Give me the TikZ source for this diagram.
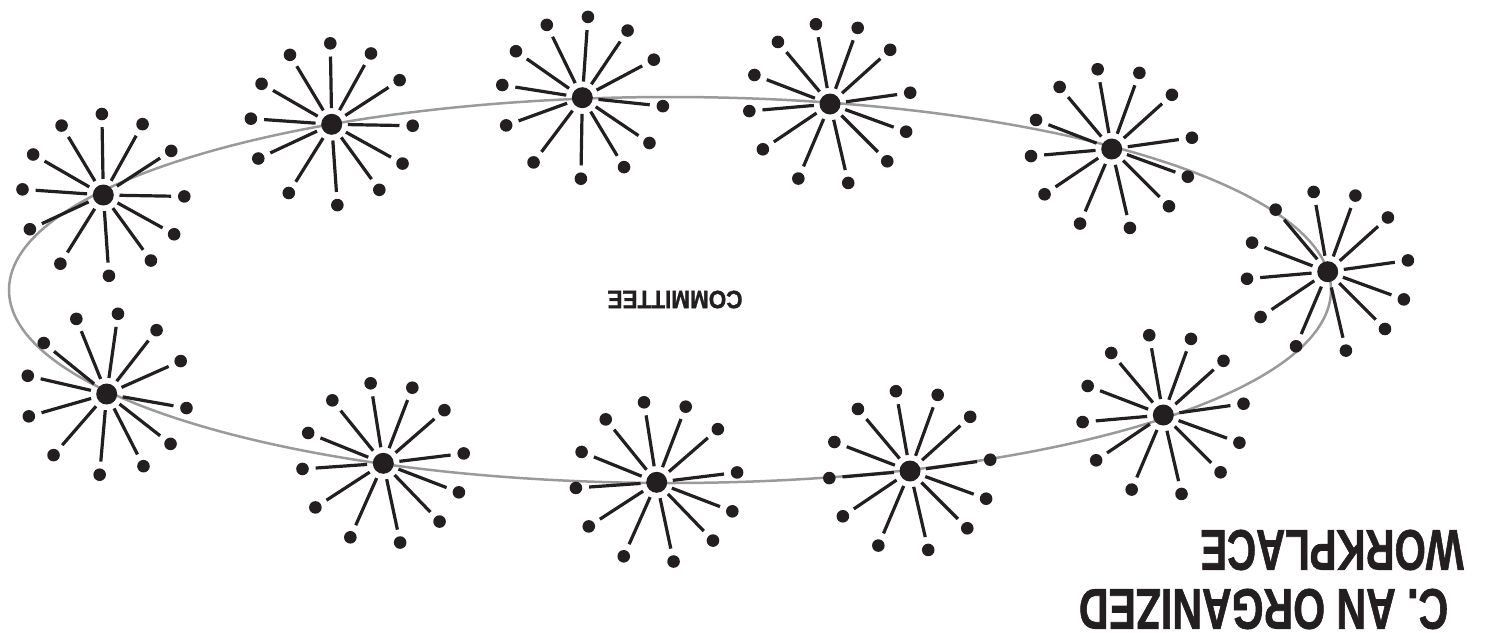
\documentclass[tikz,border=0pt]{standalone}
\usepackage{fontspec}
\setmainfont{Liberation Sans}
\newfontfamily\heavyfont[FakeBold=1.4]{Liberation Sans Bold}
\definecolor{ink}{HTML}{231F20}
\definecolor{ringgray}{HTML}{9A9A9A}
\tikzset{
  hubdot/.style={circle, fill=ink, inner sep=0pt, minimum size=21pt},
  leafdot/.style={circle, fill=ink, inner sep=0pt, minimum size=12.6pt},
  spoke/.style={line width=3.2pt, draw=ink, shorten <=5.5pt, shorten >=6.7pt},
  ring/.style={draw=ringgray, line width=2.5pt},
  bigtitle/.style={font=\heavyfont\fontsize{57}{60}\selectfont, text=ink, rotate=180, inner sep=0pt},
  label/.style={font=\heavyfont\fontsize{25}{27}\selectfont, text=ink, rotate=180, inner sep=0pt},
}
\begin{document}
\begin{tikzpicture}[x=1pt, y=-1pt]
\useasboundingbox (0,0) rectangle (1485,632);
\draw[ring] (670,290) ellipse [x radius=661, y radius=193];
\foreach \n/\cx/\cy/\r in {1/103.3/195/0, 2/331.7/124.3/0, 3/582.3/97.7/-5,
    4/830/104/9, 5/1111.7/149/9, 6/1327.7/271.7/9, 7/1163.3/415/9,
    8/910/471/9, 9/656.7/482.3/8, 10/383.3/463.3/8, 11/106.7/394/-9} {
  \node[hubdot] (h\n) at (\cx,\cy) {};
  \foreach \a [count=\j] in {91,61,33,-1,-29,-54,-86,-122,-155,176,150,121} {
    \pgfmathsetmacro\ang{\a+\r}
    \node[leafdot] (h\n-\j) at ([shift={(\ang:81pt)}]h\n.center) {};
    \draw[spoke] (h\n) -- (h\n-\j);
  }
}
\node[label] (committee) at (675,299.5) {\scalebox{0.9}[1]{COMMITTEE}};
\node[bigtitle] (title2) at (1332,550) {\scalebox{0.705}[1]{WORKPLACE}};
\node[bigtitle] (title1) at (1263.5,609) {\scalebox{0.72}[1]{C. AN ORGANIZED}};
\end{tikzpicture}
\end{document}
